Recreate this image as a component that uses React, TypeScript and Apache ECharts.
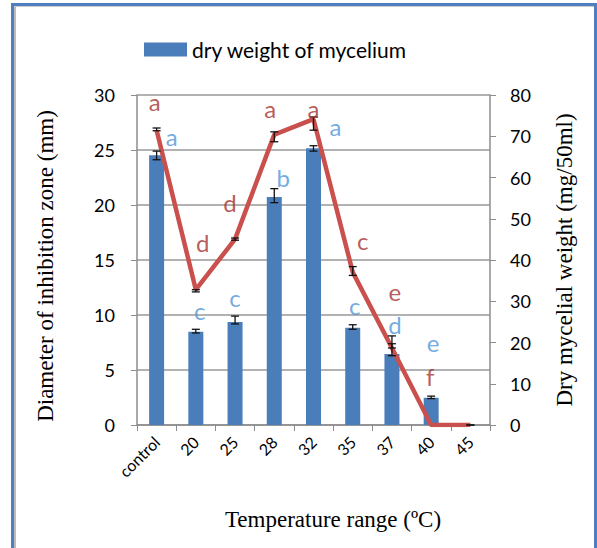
import React, { useEffect, useRef } from "react";
import * as echarts from "echarts";

const categories = ["control", "20", "25", "28", "32", "35", "37", "40", "45"];
// dry weight of mycelium (mg/50ml) – bars, right axis
const dryWeight = [65.4, 22.6, 25.0, 55.3, 67.1, 23.6, 17.2, 6.6, 0];
const dryWeightLow = [64.3, 22.3, 24.5, 53.9, 66.4, 23.2, 16.8, 6.4, 0];
const dryWeightHigh = [66.4, 23.2, 26.4, 57.3, 67.7, 24.3, 19.7, 7.0, 0];
// diameter of inhibition zone (mm) – line, left axis
const inhibition = [26.8, 12.3, 16.9, 26.4, 27.8, 13.9, 7.0, 0, 0];
const inhibitionLow = [26.75, 12.1, 16.8, 25.75, 26.8, 13.6, 7.0, 0, 0];
const inhibitionHigh = [27.0, 12.3, 17.0, 26.65, 28.0, 14.4, 8.1, 0, 0];
// significance letters
const redLetters = ["a", "d", "d", "a", "a", "c", "e", "f"];
const redLetterY = [29.4, 16.6, 20.2, 28.8, 28.8, 16.8, 12.1, 4.4];
const redLetterDx = [-2, 7, -5, -4, 0, 10, 3, -1];
const blueLetters = ["a", "c", "c", "b", "a", "c", "d", "e"];
const blueLetterY = [26.2, 10.45, 11.6, 22.5, 27.1, 10.9, 9.1, 7.5];
const blueLetterDx = [15, 4, 0, 9, 22, 2, 3, 2];

const leftTicks = { min: 0, max: 30, interval: 5 };
const rightTicks = { min: 0, max: 80, interval: 10 };

const SANS = "Lato, 'Open Sans', sans-serif";
const SERIF = "'Liberation Serif', 'DejaVu Serif', serif";

function errorRender(params: any, api: any) {
  const x = api.value(0);
  const lo = api.coord([x, api.value(1)]);
  const hi = api.coord([x, api.value(2)]);
  const w = 4;
  const style = { stroke: "#111", lineWidth: 1.3 };
  return {
    type: "group",
    children: [
      { type: "line", shape: { x1: lo[0], y1: lo[1], x2: hi[0], y2: hi[1] }, style },
      { type: "line", shape: { x1: lo[0] - w, y1: lo[1], x2: lo[0] + w, y2: lo[1] }, style },
      { type: "line", shape: { x1: hi[0] - w, y1: hi[1], x2: hi[0] + w, y2: hi[1] }, style },
    ],
  };
}

export default function App() {
  const ref = useRef<HTMLDivElement>(null);
  useEffect(() => {
    document.body.style.margin = "0";
    const chart = echarts.init(ref.current!, null, { renderer: "svg" });
    const gray = "#8c8c8c";
    chart.setOption({
      animation: false,
      backgroundColor: "#fff",
      legend: {
        data: ["dry weight of mycelium"],
        left: 139,
        top: 34,
        itemWidth: 43,
        itemHeight: 14,
        itemGap: 5,
        icon: "rect",
        textStyle: { fontFamily: SANS, fontSize: 21, color: "#000" },
      },
      grid: { left: 137, right: 107, top: 95, bottom: 123 },
      xAxis: {
        type: "category",
        data: categories,
        boundaryGap: true,
        axisLine: { lineStyle: { color: gray, width: 1.5 } },
        axisTick: { show: true, length: 6, lineStyle: { color: gray } },
        axisLabel: {
          rotate: 45,
          margin: 14,
          fontFamily: SANS,
          fontSize: 16,
          color: "#000",
          interval: 0,
        },
      },
      yAxis: [
        {
          type: "value",
          ...leftTicks,
          position: "left",
          axisLine: { show: true, lineStyle: { color: gray, width: 1.5 } },
          axisTick: { show: true, length: 6, lineStyle: { color: gray } },
          splitLine: { show: true, lineStyle: { color: "#999", width: 1.5 } },
          axisLabel: { margin: 22, fontFamily: SANS, fontSize: 18, color: "#000" },
        },
        {
          type: "value",
          ...rightTicks,
          position: "right",
          axisLine: { show: true, lineStyle: { color: gray, width: 1.5 } },
          axisTick: { show: true, length: 6, lineStyle: { color: gray } },
          splitLine: { show: false },
          axisLabel: { margin: 20, fontFamily: SANS, fontSize: 18, color: "#000" },
        },
      ],
      series: [
        {
          name: "dry weight of mycelium",
          type: "bar",
          yAxisIndex: 1,
          data: dryWeight,
          barWidth: 15,
          itemStyle: { color: "#4a7ebb" },
        },
        {
          type: "custom",
          yAxisIndex: 1,
          renderItem: errorRender,
          data: dryWeight.map((_, i) => [i, dryWeightLow[i], dryWeightHigh[i]]),
          z: 5,
          silent: true,
        },
        {
          name: "inhibition",
          type: "line",
          yAxisIndex: 0,
          data: inhibition,
          showSymbol: false,
          symbol: "none",
          lineStyle: { color: "#c9504c", width: 4.5 },
          z: 3,
        },
        {
          type: "custom",
          yAxisIndex: 0,
          renderItem: errorRender,
          data: inhibition
            .map((_, i) => [i, inhibitionLow[i], inhibitionHigh[i]])
            .filter((d) => d[2] > 0),
          z: 6,
          silent: true,
        },
        {
          type: "scatter",
          yAxisIndex: 0,
          symbolSize: 0,
          silent: true,
          z: 7,
          data: redLetters.map((t, i) => ({
            value: [i, redLetterY[i]],
            label: { offset: [redLetterDx[i], 0] },
          })),
          label: {
            show: true,
            position: "inside",
            formatter: (p: any) => redLetters[p.dataIndex],
            fontFamily: SANS,
            fontSize: 24,
            color: "#a5332f",
          },
        },
        {
          type: "scatter",
          yAxisIndex: 0,
          symbolSize: 0,
          silent: true,
          z: 7,
          data: blueLetters.map((t, i) => ({
            value: [i, blueLetterY[i]],
            label: { offset: [blueLetterDx[i], 0] },
          })),
          label: {
            show: true,
            position: "inside",
            formatter: (p: any) => blueLetters[p.dataIndex],
            fontFamily: SANS,
            fontSize: 24,
            color: "#4f95d8",
          },
        },
      ],
      graphic: [
        { type: "rect", shape: { x: 11, y: 3, width: 3, height: 560 }, style: { fill: "#4f7fc0" } },
        { type: "rect", shape: { x: 11, y: 3, width: 586, height: 3 }, style: { fill: "#4f7fc0" } },
        { type: "rect", shape: { x: 594, y: 3, width: 3, height: 560 }, style: { fill: "#4f7fc0" } },
        { type: "rect", shape: { x: 14, y: 6, width: 2, height: 560 }, style: { fill: "#bbbbbb" } },
        { type: "rect", shape: { x: 14, y: 6, width: 580, height: 1 }, style: { fill: "#cccccc" } },
        {
          type: "text",
          x: 45,
          y: 266,
          rotation: Math.PI / 2,
          style: {
            text: "Diameter of inhibition zone (mm)",
            fontFamily: SERIF,
            fontSize: 23,
            fill: "#000",
            align: "center",
            verticalAlign: "middle",
          },
        },
        {
          type: "text",
          x: 564,
          y: 260,
          rotation: Math.PI / 2,
          style: {
            text: "Dry mycelial weight (mg/50ml)",
            fontFamily: SERIF,
            fontSize: 23,
            fill: "#000",
            align: "center",
            verticalAlign: "middle",
          },
        },
        {
          type: "text",
          x: 333,
          y: 519,
          style: {
            text: "Temperature range (ºC)",
            fontFamily: SERIF,
            fontSize: 23,
            fill: "#000",
            align: "center",
            verticalAlign: "middle",
          },
        },
      ],
    });
    return () => chart.dispose();
  }, []);
  return (
    <div
      ref={ref}
      style={{ position: "fixed", left: 0, top: 0, width: 597, height: 548 }}
    />
  );
}
